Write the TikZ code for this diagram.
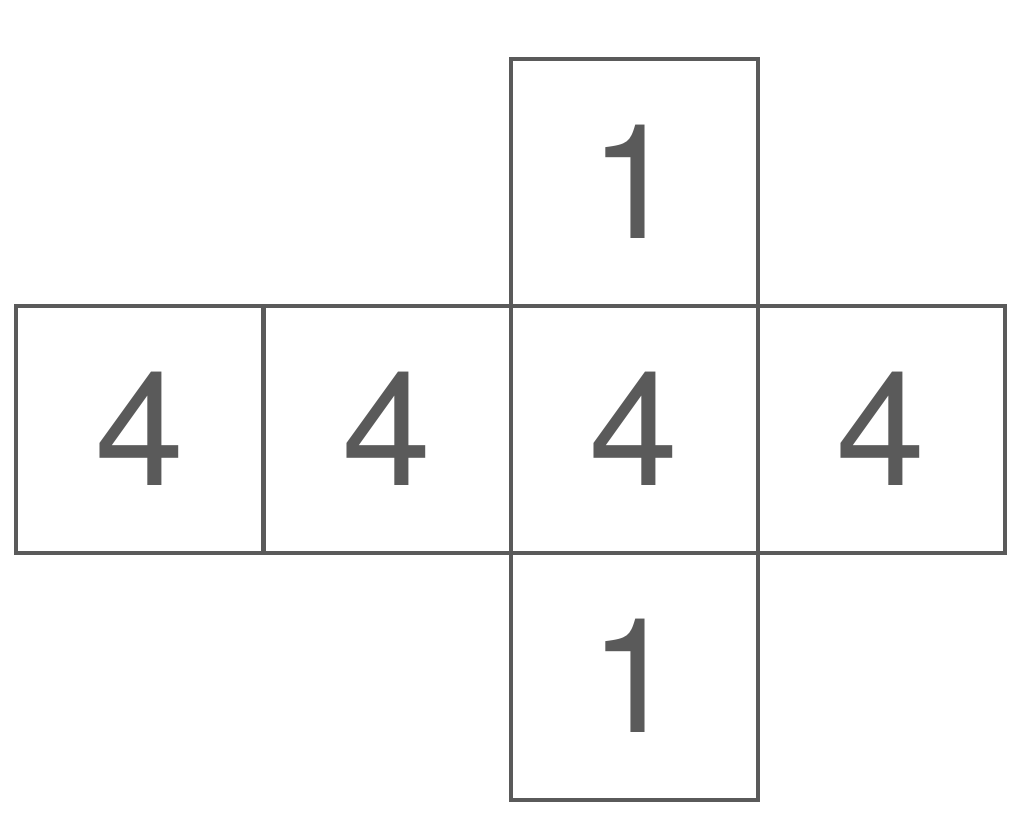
\documentclass[tikz,border=0pt]{standalone}
\usepackage{fontspec}
\setmainfont{TeX Gyre Heros}
\usepackage{tikz}
\definecolor{netgray}{HTML}{5A5A5A}
\tikzset{face/.style={draw=netgray, line width=4pt, minimum size=247pt, inner sep=0pt, outer sep=0pt,
  text=netgray, font=\fontsize{160}{160}\selectfont}}

\begin{document}
\begin{tikzpicture}
\useasboundingbox (0,0) rectangle (1024pt,-839pt);
\matrix [row sep=-4pt, column sep=-4pt, inner sep=0pt, matrix anchor=c.center] at (634pt,-429pt) {
 & & \node(top)[face]{1}; & \\
\node(a)[face]{4}; & \node(b)[face]{4}; & \node(c)[face]{4}; & \node(d)[face]{4}; \\
 & & \node(bot)[face]{1}; & \\
};
\end{tikzpicture}
\end{document}
